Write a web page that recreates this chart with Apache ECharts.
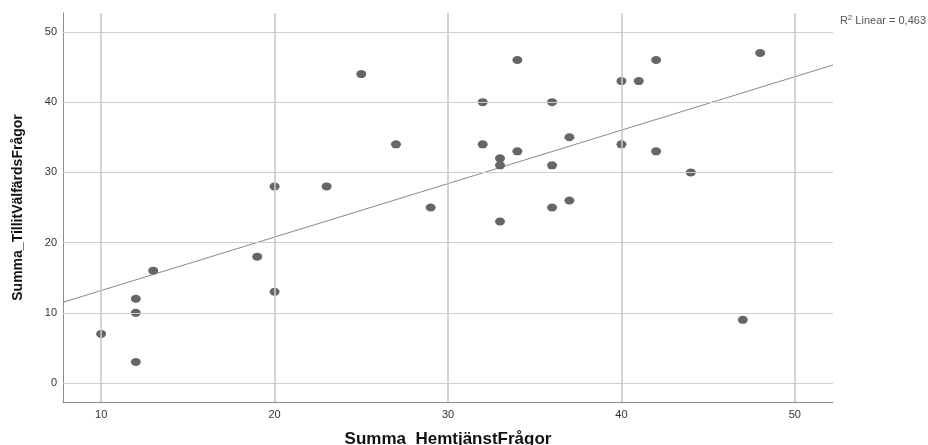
<!DOCTYPE html>
<html>
<head>
<meta charset="utf-8">
<script src="https://cdn.jsdelivr.net/npm/echarts@6/dist/echarts.min.js"></script>
<style>
html,body{margin:0;padding:0;background:#fff;}
#c{width:928px;height:445px;}
</style>
</head>
<body>
<div id="c"></div>
<script>
// Data
const hemtjanst = [10,12,12,12,13,19,20,20,23,25,27,29,32,32,33,33,33,34,34,36,36,36,37,37,40,40,41,42,42,44,47,48];
const tillit    = [ 7,12,10, 3,16,18,28,13,28,44,34,25,40,34,32,31,23,46,33,40,31,25,35,26,43,34,43,46,33,30, 9,47];
const fitX = [7.8, 52.2];
const fitY = [11.5, 45.3];
const xTicks = [10,20,30,40,50];
const yTicks = [0,10,20,30,40,50];
const xName = 'Summa_HemtjänstFrågor';
const yName = 'Summa_TillitVälfärdsFrågor';
const r2Text = '0,463';

const points = hemtjanst.map((x,i)=>[x, tillit[i]]);
const fitLine = fitX.map((x,i)=>[x, fitY[i]]);

const chart = echarts.init(document.getElementById('c'), null, {renderer:'canvas'});
const font = 'Liberation Sans, Arial, sans-serif';
chart.setOption({
  animation:false,
  backgroundColor:'#fff',
  grid:{left:63, right:95, top:13, bottom:43, containLabel:false, outerBoundsMode:'none'},
  xAxis:{
    type:'value', min:7.8, max:52.2,
    axisLine:{show:true, onZero:false, lineStyle:{color:'#8c8c8c', width:1}},
    axisTick:{show:false},
    splitLine:{show:false},
    axisLabel:{color:'#333', fontSize:11, fontFamily:font, margin:7,
      customValues: xTicks},
    name:xName, nameLocation:'middle', nameGap:29,
    nameTextStyle:{color:'#111', fontSize:17, fontWeight:'bold', fontFamily:font}
  },
  yAxis:{
    type:'value', min:-2.7, max:52.7,
    axisLine:{show:true, onZero:false, lineStyle:{color:'#8c8c8c', width:1}},
    axisTick:{show:false},
    splitLine:{show:false},
    axisLabel:{color:'#333', fontSize:11, fontFamily:font, margin:6,
      customValues: yTicks},
    name:yName, nameLocation:'middle', nameGap:38,
    nameTextStyle:{color:'#111', fontSize:14, fontWeight:'bold', fontFamily:font}
  },
  graphic:[{
    type:'text', right:2, top:14,
    style:{
      text:'{a|R}{s|2}{a| Linear = '+r2Text+'}',
      rich:{
        a:{fontSize:11, fill:'#555', fontFamily:font},
        s:{fontSize:8, fill:'#555', fontFamily:font, verticalAlign:'top', padding:[0,0,5,0]}
      }
    }
  }],
  series:[
    {
      type:'line', data: [], showSymbol:false, silent:true,
      markLine:{
        silent:true, symbol:'none', label:{show:false},
        lineStyle:{color:'#cfcfcf', width:1, type:'solid'},
        data: yTicks.map(v=>({yAxis:v}))
      }, z:1
    },
    {
      type:'line', data: [], showSymbol:false, silent:true,
      markLine:{
        silent:true, symbol:'none', label:{show:false},
        lineStyle:{color:'#c8c8c8', width:1.6, type:'solid'},
        data: xTicks.map(v=>({xAxis:v}))
      }, z:1
    },
    {
      type:'line', data: fitLine, showSymbol:false, silent:true,
      lineStyle:{color:'#8a8a8a', width:1}, z:2
    },
    {
      type:'scatter', data: points, symbol:'circle', symbolSize:[10,8],
      itemStyle:{color:'#666666', opacity:1}, z:3
    }
  ]
});
</script>
</body>
</html>
